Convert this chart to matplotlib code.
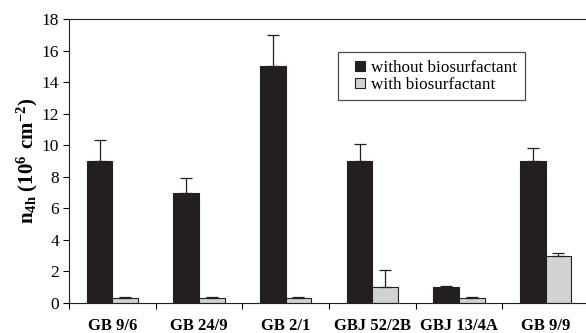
import numpy as np
import matplotlib
matplotlib.use('Agg')
import matplotlib.pyplot as plt
from matplotlib.lines import Line2D

plt.rcParams['font.family'] = ['Liberation Serif', 'DejaVu Serif']
plt.rcParams['mathtext.fontset'] = 'custom'
plt.rcParams['mathtext.rm'] = 'Liberation Serif'
plt.rcParams['mathtext.bf'] = 'Liberation Serif:bold'

# data
strains = ['GB 9/6', 'GB 24/9', 'GB 2/1', 'GBJ 52/2B', 'GBJ 13/4A', 'GB 9/9']
without_bs = [9.0, 7.0, 15.0, 9.0, 1.0, 9.0]
without_err = [1.3, 0.9, 2.0, 1.1, 0.05, 0.8]
with_bs = [0.3, 0.3, 0.3, 1.0, 0.3, 3.0]
with_err = [0.1, 0.05, 0.05, 1.1, 0.05, 0.15]

DARK = '#231f20'
GREY = '#d2d2d2'

fig = plt.figure(figsize=(5.86, 3.33), dpi=100)
ax = fig.add_axes([69 / 586, 30 / 333, 520 / 586, 284 / 333])

x = np.arange(len(strains))
w = 0.295
ekw = dict(ecolor=DARK, elinewidth=0.9, capsize=4, capthick=0.9)
ax.bar(x - w / 2, without_bs, w, color=DARK, edgecolor=DARK, linewidth=0.8,
       yerr=[np.zeros(len(x)), without_err], error_kw=ekw, zorder=2)
ax.bar(x + w / 2, with_bs, w, color=GREY, edgecolor=DARK, linewidth=0.8,
       yerr=[np.zeros(len(x)), with_err], error_kw=ekw, zorder=2)

ax.set_xlim(-0.5, len(strains) - 0.5)
ax.set_ylim(0, 18)
ax.set_yticks(np.arange(0, 19, 2))
ax.tick_params(axis='y', direction='out', length=4, width=0.8, labelsize=12.5, pad=3)

# group boundaries get the ticks, names sit between them
ax.set_xticks(np.arange(-0.5, len(strains), 1.0))
ax.set_xticklabels([])
ax.tick_params(axis='x', which='major', direction='out', length=4, width=0.8)
ax.set_xticks(x, minor=True)
ax.set_xticklabels(strains, minor=True, fontweight='bold', fontsize=12)
ax.tick_params(axis='x', which='minor', length=0, pad=11)

ax.spines['right'].set_visible(False)
for s in ['left', 'bottom', 'top']:
    ax.spines[s].set_linewidth(0.8)
    ax.spines[s].set_color(DARK)

ax.set_ylabel(r'$\mathbf{n_{4h}}$ $\mathbf{(10^6\ cm^{-2})}$', fontsize=15, labelpad=1)

handles = [
    Line2D([], [], ls='none', marker='s', markersize=7, markerfacecolor=DARK,
           markeredgecolor=DARK, markeredgewidth=0.8, label='without biosurfactant'),
    Line2D([], [], ls='none', marker='s', markersize=7, markerfacecolor=GREY,
           markeredgecolor=DARK, markeredgewidth=0.8, label='with biosurfactant'),
]
leg = ax.legend(handles=handles, loc='upper left', bbox_to_anchor=(269 / 520, 1 - 33 / 284),
                fontsize=12.3, frameon=True, fancybox=False, edgecolor=DARK,
                handlelength=1.7, handletextpad=-0.2, borderpad=0.45, labelspacing=0.05,
                borderaxespad=0)
leg.get_frame().set_linewidth(0.9)

plt.savefig('out.png', dpi=100)
